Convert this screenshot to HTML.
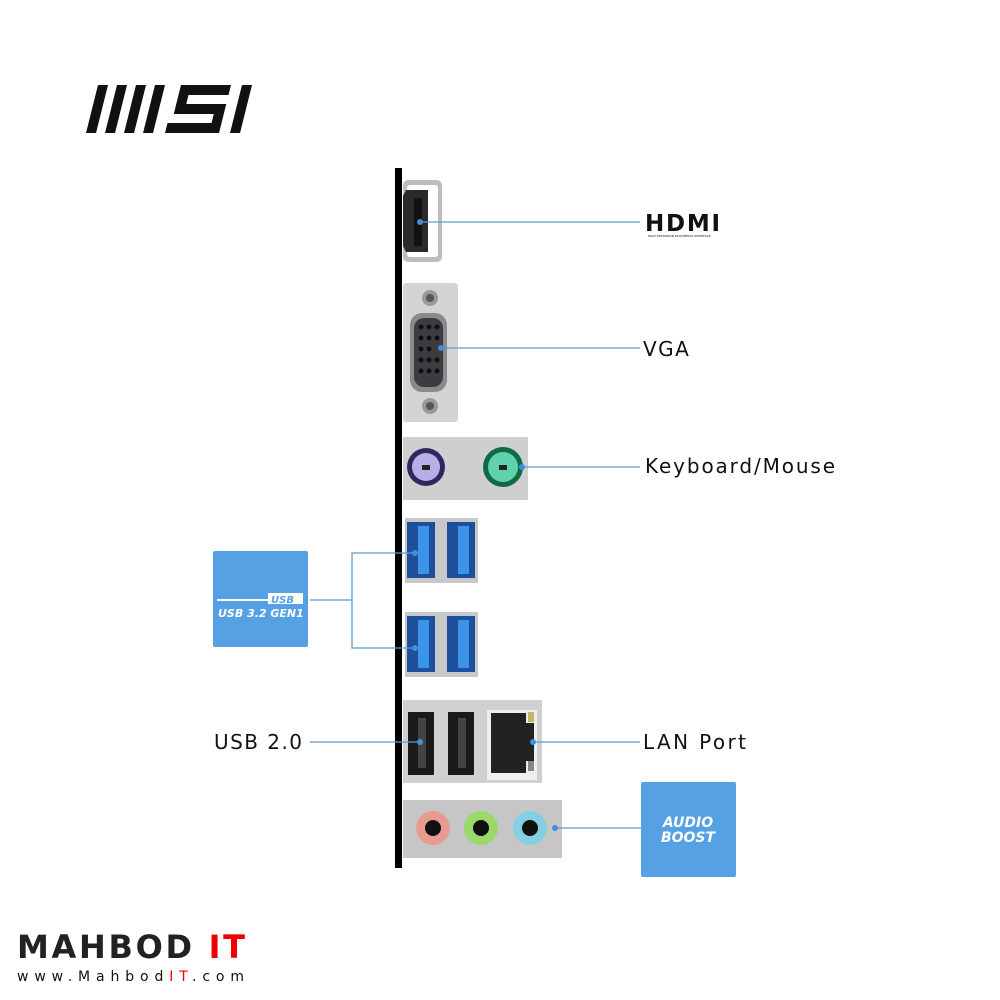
<!DOCTYPE html>
<html><head><meta charset="utf-8"><style>
html,body{margin:0;padding:0;background:#fff;width:1000px;height:1000px;overflow:hidden}
svg{display:block}
text{font-family:"DejaVu Sans","Liberation Sans",sans-serif}
</style></head><body>
<svg width="1000" height="1000" viewBox="0 0 1000 1000">
<g transform="translate(86,85) skewX(-14)" fill="#111">
<rect x="12" y="0" width="10" height="48"/>
<rect x="31" y="0" width="10" height="48"/>
<rect x="50" y="0" width="10" height="48"/>
<rect x="69" y="0" width="10" height="48"/>
<path d="M95 0h50v10h-40v9h40v29h-54v-10h44v-9h-40z"/>
<rect x="156" y="0" width="10" height="48"/>
</g>
<rect x="395" y="168" width="7" height="700" fill="#000"/>
<rect x="403" y="180" width="39" height="82" rx="5" fill="#bdbdbd"/>
<rect x="407" y="185" width="31" height="72" rx="3" fill="#fff"/>
<path d="M406 190h22v62h-22l-3-6v-50z" fill="#2a2a2a"/>
<rect x="414" y="198" width="8" height="48" fill="#111"/>
<rect x="403" y="283" width="55" height="139" rx="3" fill="#d4d4d4"/>
<circle cx="430" cy="298" r="8" fill="#999"/><circle cx="430" cy="298" r="4" fill="#555"/>
<circle cx="430" cy="406" r="8" fill="#999"/><circle cx="430" cy="406" r="4" fill="#555"/>
<rect x="410" y="313" width="37" height="79" rx="12" fill="#8a8a8a"/>
<rect x="414" y="318" width="29" height="69" rx="10" fill="#3c3c40"/>
<g fill="#111">
<circle cx="421" cy="327" r="2.5"/><circle cx="429" cy="327" r="2.5"/><circle cx="437" cy="327" r="2.5"/>
<circle cx="421" cy="338" r="2.5"/><circle cx="429" cy="338" r="2.5"/><circle cx="437" cy="338" r="2.5"/>
<circle cx="421" cy="349" r="2.5"/><circle cx="429" cy="349" r="2.5"/>
<circle cx="421" cy="360" r="2.5"/><circle cx="429" cy="360" r="2.5"/><circle cx="437" cy="360" r="2.5"/>
<circle cx="421" cy="371" r="2.5"/><circle cx="429" cy="371" r="2.5"/><circle cx="437" cy="371" r="2.5"/>
</g>
<rect x="403" y="437" width="125" height="63" fill="#cfcfcf"/>
<circle cx="426" cy="467" r="19" fill="#2d2860"/><circle cx="426" cy="467" r="14" fill="#b9aee8"/>
<circle cx="503" cy="467" r="20" fill="#0f6b45"/><circle cx="503" cy="467" r="15" fill="#5fd2ad"/>
<rect x="422" y="465" width="8" height="5" fill="#222"/><rect x="499" y="465" width="8" height="5" fill="#222"/>
<g id="u3">
<rect x="405" y="518" width="73" height="65" fill="#c8c8c8"/>
<rect x="407" y="522" width="28" height="56" fill="#1d4f9a"/><rect x="418" y="526" width="11" height="48" fill="#3c94e8"/>
<rect x="447" y="522" width="28" height="56" fill="#1d4f9a"/><rect x="458" y="526" width="11" height="48" fill="#3c94e8"/>
</g>
<use href="#u3" y="94"/>
<rect x="403" y="700" width="139" height="83" fill="#d0d0d0"/>
<rect x="408" y="712" width="26" height="63" fill="#1a1a1a"/><rect x="418" y="718" width="8" height="50" fill="#444"/>
<rect x="448" y="712" width="26" height="63" fill="#1a1a1a"/><rect x="458" y="718" width="8" height="50" fill="#444"/>
<rect x="487" y="710" width="50" height="70" fill="#eee"/>
<path d="M491 713h35v10h8v38h-8v12h-35z" fill="#222"/>
<rect x="528" y="712" width="6" height="10" fill="#c9b36a"/><rect x="528" y="761" width="6" height="10" fill="#888"/>
<rect x="403" y="800" width="159" height="58" fill="#c6c6c6"/>
<circle cx="433" cy="828" r="17" fill="#e99a90"/><circle cx="433" cy="828" r="8" fill="#111"/>
<circle cx="481" cy="828" r="17" fill="#9bd86a"/><circle cx="481" cy="828" r="8" fill="#111"/>
<circle cx="530" cy="828" r="17" fill="#86cfe2"/><circle cx="530" cy="828" r="8" fill="#111"/>
<g stroke="#5b9bd5" stroke-width="1.3" fill="none">
<path d="M420 222H640"/><path d="M441 348H640"/><path d="M522 467H640"/>
<path d="M415 553H352V648H415"/><path d="M310 600H352"/>
<path d="M310 742H420"/><path d="M533 742H640"/><path d="M555 828H641"/>
</g>
<g fill="#3f8fe0">
<circle cx="420" cy="222" r="3"/><circle cx="441" cy="348" r="3"/><circle cx="522" cy="467" r="3"/>
<circle cx="415" cy="553" r="3"/><circle cx="415" cy="648" r="3"/><circle cx="420" cy="742" r="3"/>
<circle cx="533" cy="742" r="3"/><circle cx="555" cy="828" r="3"/>
</g>
<text x="645" y="231" font-size="23" font-weight="bold" letter-spacing="3" fill="#111" textLength="78">HDMI</text>
<text x="648" y="237" font-size="3" fill="#111">HIGH DEFINITION MULTIMEDIA INTERFACE</text>
<text x="643" y="356" font-size="20" fill="#111" letter-spacing="1.5">VGA</text>
<text x="645" y="473" font-size="20" fill="#111" textLength="190">Keyboard/Mouse</text>
<text x="643" y="749" font-size="20" fill="#111" textLength="103">LAN Port</text>
<text x="214" y="749" font-size="20" fill="#111" textLength="88">USB 2.0</text>
<rect x="213" y="551" width="95" height="96" rx="2" fill="#56a0e4"/>
<path d="M217 600H268" stroke="#fff" stroke-width="2"/>
<rect x="268" y="593" width="35" height="11" fill="#fff"/>
<text x="271" y="603" font-size="10" font-style="italic" font-weight="bold" fill="#56a0e4">USB</text>
<text x="218" y="617" font-size="11" font-style="italic" font-weight="bold" fill="#fff">USB 3.2 GEN1</text>
<rect x="641" y="782" width="95" height="95" rx="2" fill="#56a0e4"/>
<text x="688" y="827" font-size="14" font-style="italic" font-weight="bold" fill="#fff" text-anchor="middle">AUDIO</text>
<text x="688" y="842" font-size="14" font-style="italic" font-weight="bold" fill="#fff" text-anchor="middle">BOOST</text>
<text x="17" y="958" font-size="32" font-weight="bold" fill="#222" textLength="228">MAHBOD <tspan fill="#e00">IT</tspan></text>
<text x="17" y="981" font-size="14" fill="#111" textLength="227">www.Mahbod<tspan fill="#e00">IT</tspan>.com</text>
</svg>
</body></html>
